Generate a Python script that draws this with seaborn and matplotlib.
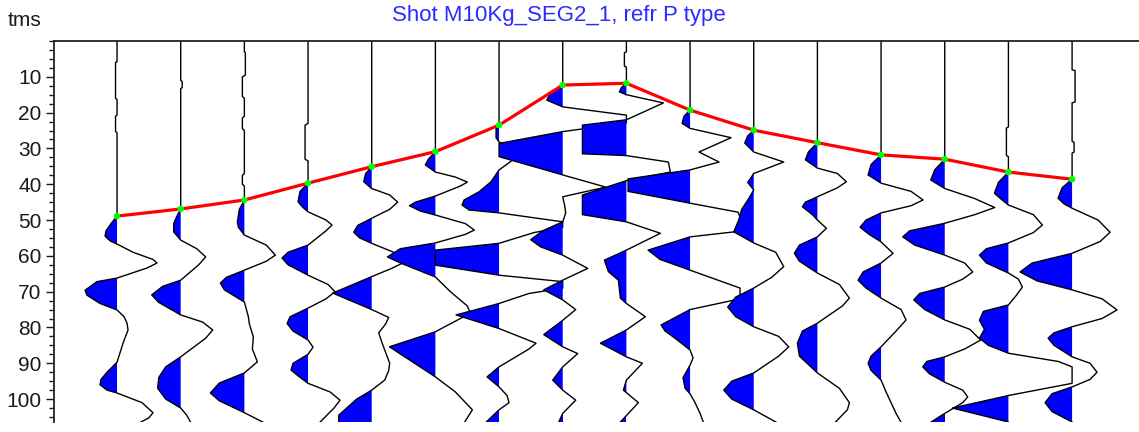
import numpy as np
import matplotlib
matplotlib.use("Agg")
import matplotlib.pyplot as plt
from matplotlib.ticker import FixedLocator, MultipleLocator
import seaborn as sns


# Shot gather: 16 traces, (time ms, amplitude counts)
trace_no = list(range(1, 17))
picks_ms = [48.9, 46.9, 44.4, 39.7, 35.1, 30.9, 23.5, 12.3,
            11.8, 19.3, 24.9, 28.4, 31.8, 33.0, 36.6, 38.6]
ytick_ms = [10, 20, 30, 40, 50, 60, 70, 80, 90, 100]

tr01 = [(0, 0), (5.8, 0), (6, -1.5), (16, -1.5), (16.3, 0), (20.7, 0), (21, -1.5), (25.3, -1.5), (25.6, 0),
        (48.9, 0), (51, -6), (53, -11), (54.5, -12), (55.8, -7), (56.7, 0), (59, 16), (61, 36), (62, 40),
        (63.4, 30), (66.2, 0), (67.2, -20), (69.6, -32), (71, -30), (73.3, -17), (75.1, 0), (77, 7),
        (78.8, 10), (80.7, 11), (84.4, 6), (89.7, 0), (92.5, -10), (94.5, -16), (96, -17), (97.5, -10),
        (98.3, 0), (101, 25), (103.8, 36), (105.2, 32), (107, 20)]
tr02 = [(0, 0), (11, 0), (11.3, 1.5), (13, 1.5), (13.3, 0), (46.9, 0), (49, -4), (51, -7), (53.3, -7),
        (55.6, 0), (58, 16), (60.3, 25), (62.5, 18), (66.8, 0), (68.5, -18), (70.9, -29), (73, -22),
        (76.5, 0), (78.5, 22), (80.7, 32), (83, 25), (88.2, 0), (91, -15), (94, -22), (97, -23),
        (100, -15), (102.5, 0), (104.5, 6), (107, 11)]
tr03 = [(0, 0), (3, 0), (3.3, 1), (9.5, 1), (10, -2), (15.5, -2), (16, 0), (21, 0), (21.5, -2), (24.5, -2),
        (25, 0), (37, 0), (37.5, -2), (40, -2), (40.5, 0), (44.4, 0), (47, -5), (50.5, -7), (52, -6),
        (54.2, 0), (57, 22), (59.8, 31), (61.5, 22), (64, 0), (66, -18), (67.6, -24), (69.5, -20),
        (72.9, 0), (77, 4), (79, 5), (82.7, 9), (86, 8), (89.6, 13), (92.7, 0), (95.5, -25), (98.3, -34),
        (100.5, -25), (103.8, 0), (106.5, 19)]
tr04 = [(0, 0), (23, 0), (23.5, -3), (33, -3), (33.5, 0), (39.7, 0), (42, -8), (44.9, -10), (46.5, -5),
        (47.7, 0), (50, 18), (51.4, 24), (53, 18), (57, 0), (59, -20), (60.6, -26), (62.5, -20), (65.4, 0),
        (68, 20), (70, 27), (72, 18), (74.6, 0), (77, -18), (78.9, -21), (81, -15), (83.5, 0), (85.5, 5),
        (87.5, 0), (90, -15), (91.9, -17), (93.5, -10), (95.6, 0), (98, 22), (100.3, 32), (102.5, 26),
        (107, 10)]
tr05 = [(0, 0), (35.1, 0), (37, -6), (39.3, -8), (41.2, 0), (43, 18), (45, 26), (47, 18), (49.5, 0),
        (51.5, -14), (53.4, -18), (55, -12), (56.5, 0), (59, 22), (62, 31), (63.5, 20), (65.8, 0),
        (70.4, -39), (75, 0), (77.2, 17), (79, 14), (81.5, 7), (84, 10), (86.3, 13), (90, 18), (92, 17),
        (94.7, 13), (97.5, 0), (100, -15), (103, -27), (104.5, -33), (107, -33)]
tr06 = [(0, 0), (30.9, 0), (33, -7), (34.6, -10), (36.6, 0), (38, 20), (39.4, 32), (40.5, 25), (43.3, 0),
        (45, -20), (46, -26), (47.5, -15), (48.6, 0), (51, 30), (52.8, 39), (54, 30), (56.4, 0), (58, -35),
        (60.3, -48), (62, -35), (65.9, 0), (70, 15), (74, 32), (76, 35), (77.5, 25), (81.2, 0),
        (85.4, -46), (93.8, 0), (98, 20), (103, 37), (107, 28)]
tr07 = [(0, 0), (23.5, 0), (24.2, -3), (27, -3), (28.2, 0), (30, 12), (32.7, 16), (34, 10), (36, 0),
        (39.3, -8), (42.1, -20), (44.4, -35), (45.8, -37), (47.2, -30), (48, 0), (50.5, 64), (52, 64),
        (53.5, 35), (56.5, 0), (58.4, -64), (62.6, -64), (65.4, 0), (67.2, 64), (69, 64), (70.5, 30),
        (73.3, 0), (76.5, -43), (80.3, 0), (84.4, 37), (86, 30), (91, 0), (93.8, -12), (96.6, 0), (99, 8),
        (101, 10), (103, 0), (107, -15)]
tr08 = [(0, 0), (12.3, 0), (14.5, -12), (16.5, -16), (18.4, 0), (20.7, 64), (22.9, 64), (25.3, 0),
        (28.6, -64), (32.3, -64), (37.4, 0), (40.8, 43), (43.5, 0), (46, 2), (48, 3), (50.5, 0), (53, -20),
        (55.5, -32), (57.5, -22), (59.8, 0), (63.5, 25), (66.8, 0), (69.5, -19), (72.3, 0), (75, 13),
        (78, 0), (82, -19), (85.4, 0), (87.3, 15), (91, 0), (94.7, -10), (97.5, 0), (100.3, 13), (104, 0),
        (107, -5)]
tr09 = [(0, 0), (3, 0), (3.3, -2), (7, -2), (7.3, 0), (11.8, 0), (13, -5), (14.2, -7), (15, 0), (17.3, 37),
        (22, 0), (23.5, -44), (31.5, -44), (32, 0), (33.8, 42), (36.6, 44), (39, 0), (43, -44), (48.5, -44),
        (50.5, 0), (53.7, 34), (58.4, 0), (61.2, -22), (64.4, -18), (66.8, -8), (71.8, -6), (73.3, 0),
        (77, 19), (80.7, 0), (84.4, -26), (88.2, 0), (90, 16), (94.7, 0), (97.5, -3), (101, 12),
        (104.6, 0), (107, -8)]
tr10 = [(0, 0), (19.3, 0), (21, -6), (23, -8), (24.4, 0), (27, 41), (31, 9), (33.8, 29), (36, 0),
        (38.5, -62), (42, -62), (45.3, 0), (47.8, 48), (50.5, 52), (53.3, 44), (54.7, 0), (58.4, -42),
        (61, -30), (64, 0), (69, 50), (72, 50), (75, 0), (79.3, -29), (81, -25), (83, -15), (86.3, 0),
        (88.5, 3), (90.5, 0), (94, -7), (97, -5), (98.5, 0), (101, 5), (104, 10), (107, 14)]
tr11 = [(0, 0), (24.9, 0), (26.5, -6), (28.5, -9), (31, 0), (33.8, 30), (37, 0), (39.5, -6), (41.6, 0),
        (44, -5), (47, -12), (50, -15), (53.3, -20), (56.4, 0), (59, 22), (63, 30), (66, 18), (69, 0),
        (71.5, -18), (74.3, -26), (77, -18), (79.8, 0), (82.5, 25), (85.4, 35), (88, 25), (92.7, 0),
        (95, -22), (97.5, -30), (100, -22), (103, 0), (107, 26)]
tr12 = [(0, 0), (28.4, 0), (31, -9), (33.2, -12), (35.5, 0), (37, 20), (39.3, 29), (41, 20), (43.5, 0),
        (45, -12), (46.3, -15), (48.5, -5), (50, 0), (52.3, 9), (54.7, 0), (57, -18), (59.3, -23),
        (61.5, -18), (64.8, 0), (68, 22), (71.8, 32), (74, 25), (78.8, 0), (81, -15), (84.4, -20),
        (88, -18), (92.7, 0), (97, 22), (101, 32), (103, 30), (107, 16)]
tr13 = [(0, 0), (31.8, 0), (34.5, -10), (37.4, -13), (39.7, 0), (42, 30), (44.4, 42), (46, 30), (48, 0),
        (50, -15), (52, -21), (54, -12), (56.1, 0), (59.3, 12), (62, 0), (64.5, -18), (66.8, -23),
        (69, -15), (71.8, 0), (75, 20), (77.9, 25), (81, 15), (85.4, 0), (88, -10), (90, -13), (92, -10),
        (94.7, 0), (98, 5), (101, 10), (104, 15), (107, 21)]
tr14 = [(0, 0), (33, 0), (36, -10), (38.8, -14), (41.2, 0), (44, 30), (46.5, 50), (48.5, 30), (50.9, 0),
        (53, -35), (54.7, -42), (57, -30), (59.8, 0), (62, 20), (64.5, 28), (66.5, 18), (68.7, 0),
        (70.5, -25), (72.3, -31), (75, -20), (77.9, 0), (80.5, 25), (83.5, 36), (86, 20), (88.2, 0),
        (89.5, -18), (91, -22), (93, -15), (95.3, 0), (97.5, 18), (99.4, 23), (101, 18), (104, 0),
        (107, -17)]
tr15 = [(0, 0), (24, 0), (24.3, -2), (32, -2), (32.3, 0), (36.6, 0), (39.5, -10), (42.5, -14), (44, -8),
        (45.8, 0), (48.5, 25), (51.4, 34), (53.5, 25), (56.4, 0), (58, -22), (59.8, -29), (62, -22),
        (64.8, 0), (66.5, 10), (68.7, 14), (71, 8), (73.7, 0), (75.5, -25), (78, -29), (80.5, -24),
        (83, -29), (85, -20), (87.2, 0), (89.5, 50), (91, 64), (95.6, 64), (99, 0), (102.5, -56),
        (106.4, 0)]
tr16 = [(0, 0), (8, 0), (8.3, 3), (17, 3), (17.3, 0), (28, 0), (28.3, 2), (31, 2), (31.3, 0), (38.6, 0),
        (41, -10), (43.9, -14), (45.5, -8), (46.7, 0), (50, 26), (53.4, 38), (56, 28), (59.3, 0),
        (62, -40), (64.5, -52), (67, -35), (69.5, 0), (72, 30), (75.1, 45), (77.5, 30), (79.8, 0),
        (81.5, -18), (83, -24), (85, -18), (88.2, 0), (90, 18), (92.5, 25), (94.5, 18), (96.6, 0),
        (98.5, -20), (101, -27), (103.5, -20), (106.4, 0), (107, 2)]

traces = [tr01, tr02, tr03, tr04, tr05, tr06, tr07, tr08,
          tr09, tr10, tr11, tr12, tr13, tr14, tr15, tr16]

gain = 1 / 63.7   # counts per trace spacing
clip = 1.0        # clip at one trace spacing

sns.set_style("white")
plt.rcParams["font.family"] = ["Liberation Sans", "DejaVu Sans"]

W, H = 1139, 432
fig = plt.figure(figsize=(W / 100, H / 100), dpi=100)
ax = fig.add_axes([54 / W, 10 / H, 1 - 54 / W, 381 / H])

for i, pts in enumerate(traces):
    t = np.array([p[0] for p in pts])
    a = np.array([p[1] for p in pts])
    x0 = trace_no[i]
    x = x0 + np.clip(a * gain, -clip, clip)
    # variable-area fill of the negative lobes, only after the first break
    ax.fill_betweenx(t, x0, x, where=(x < x0) & (t >= picks_ms[i] - 0.5), interpolate=True,
                     color="#0000ff", lw=0, zorder=2 + 2 * i)
    sns.lineplot(x=x, y=t, sort=False, estimator=None, color="black",
                 lw=1.0, ax=ax, zorder=3 + 2 * i)

# first-break picks
sns.lineplot(x=trace_no, y=picks_ms, sort=False, estimator=None,
             color="#ff0000", lw=2.3, ax=ax, zorder=60)
ax.scatter(trace_no, picks_ms, s=22, marker="o", color="#00ff00",
           edgecolors="none", zorder=61)

ax.set_xlim(0.01, 0.01 + (W - 54) / 63.67)
ax.set_ylim(106.4, 0)
ax.set_xticks([])
ax.yaxis.set_major_locator(FixedLocator(ytick_ms))
ax.yaxis.set_minor_locator(MultipleLocator(2.5))
ax.tick_params(axis="y", which="major", direction="out", length=6, width=1,
               labelsize=15, pad=3, colors="#1a1a1a", left=True)
ax.tick_params(axis="y", which="minor", direction="out", length=3.5, width=1,
               colors="#1a1a1a", left=True)
ax.set_xlabel("")
ax.set_ylabel("")

for side in ["bottom", "right"]:
    ax.spines[side].set_visible(False)
for side in ["left", "top"]:
    ax.spines[side].set_color("#222222")
    ax.spines[side].set_linewidth(1.3)
    ax.spines[side].set_zorder(70)

fig.text(8 / W, 1 - 21 / H, "tms", fontsize=15, ha="left", va="center", color="#1a1a1a")
fig.text(559 / W, 1 - 16 / H, "Shot M10Kg_SEG2_1, refr P type", fontsize=16,
         ha="center", va="center", color="#2b2bff")

fig.savefig("out.png", dpi=100)
plt.close(fig)
